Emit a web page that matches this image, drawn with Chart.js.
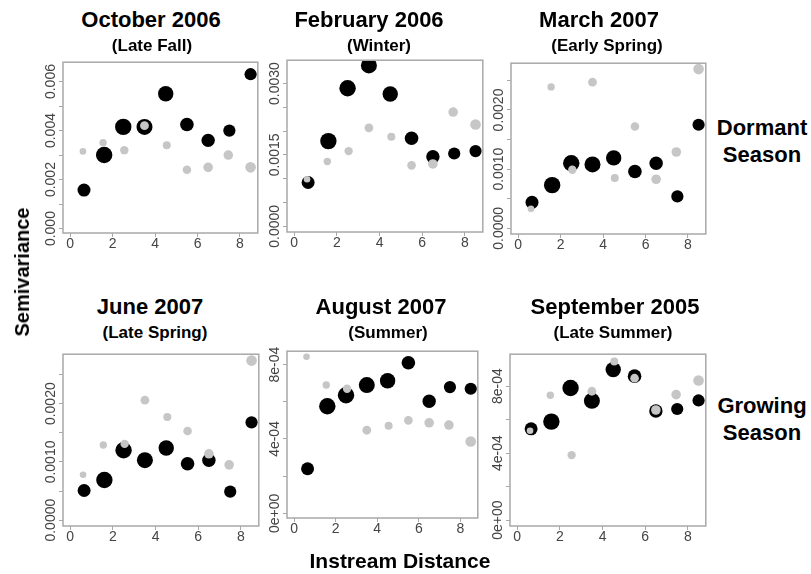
<!doctype html>
<html lang="en">
<head>
<meta charset="UTF-8">
<title>Semivariance by season</title>
<script src="https://cdn.jsdelivr.net/npm/chart.js@4"></script>
<style>
  body { margin: 0; background: #fff; }
  #fig { position: relative; width: 811px; height: 574px; overflow: hidden; background: #fff;
         font-family: "Liberation Sans", Arial, sans-serif; }
  #fig canvas { position: absolute; }
  .txt { position: absolute; font-weight: bold; color: #000; white-space: nowrap;
         transform: translate(-50%, -50%); line-height: 1; text-align: center; }
  .title { font-size: 22px; }
  .sub { font-size: 17px; }
  .side { font-size: 22px; line-height: 27px; }
  .axis { font-size: 21px; }
  .ylab { font-size: 20px; transform: translate(-50%, -50%) rotate(-90deg); }
</style>
</head>
<body>
<div id="fig"></div>

<script>
// lag distance of each bin (black = observed, gray = second series)
const blackDist = [0.65, 1.6, 2.5, 3.5, 4.5, 5.5, 6.5, 7.5, 8.5];
const grayDist = [0.6, 1.55, 2.55, 3.5, 4.55, 5.5, 6.5, 7.45, 8.5];
// relative marker size per bin
const blackSize = [6.5, 8.2, 8.2, 8, 7.7, 6.8, 6.7, 6.1, 6.1];
const graySize = [3.3, 3.7, 4.2, 4.4, 4, 4.3, 4.8, 4.8, 5.3];

const titles = ['October 2006', 'February 2006', 'March 2007', 'June 2007', 'August 2007', 'September 2005'];
const seasons = ['(Late Fall)', '(Winter)', '(Early Spring)', '(Late Spring)', '(Summer)', '(Late Summer)'];

const octBlack = [0.00157, 0.0030, 0.00415, 0.00415, 0.0055, 0.00425, 0.0036, 0.0040, 0.0063];
const octGray = [0.00315, 0.0035, 0.0032, 0.0042, 0.0034, 0.0024, 0.0025, 0.0030, 0.0025];
const febBlack = [0.00092, 0.00179, 0.0029, 0.00338, 0.00278, 0.00185, 0.00146, 0.00153, 0.00158];
const febGray = [0.00099, 0.00136, 0.00158, 0.00207, 0.00188, 0.00128, 0.00131, 0.0024, 0.00214];
const marBlack = [0.00044, 0.00073, 0.0011, 0.00108, 0.00119, 0.00096, 0.0011, 0.00054, 0.00175];
const marGray = [0.00033, 0.00239, 0.00099, 0.00247, 0.00085, 0.00172, 0.00083, 0.00129, 0.00269];
const junBlack = [0.00051, 0.00069, 0.0012, 0.00103, 0.00124, 0.00097, 0.00103, 0.00049, 0.00168];
const junGray = [0.00078, 0.00129, 0.00131, 0.00206, 0.00177, 0.00153, 0.00114, 0.00095, 0.00274];
const augBlack = [2.4e-4, 5.76e-4, 6.35e-4, 6.9e-4, 7.13e-4, 8.1e-4, 6.03e-4, 6.79e-4, 6.7e-4];
const augGray = [8.42e-4, 6.9e-4, 6.7e-4, 4.47e-4, 4.71e-4, 5.0e-4, 4.87e-4, 4.75e-4, 3.86e-4];
const sepBlack = [5.45e-4, 5.88e-4, 7.88e-4, 7.12e-4, 8.98e-4, 8.59e-4, 6.51e-4, 6.63e-4, 7.14e-4];
const sepGray = [5.33e-4, 7.45e-4, 3.88e-4, 7.69e-4, 9.47e-4, 8.47e-4, 6.57e-4, 7.49e-4, 8.33e-4];

// tick values and their labels ('' = tick mark only)
const xTicks = [0, 2, 4, 6, 8];
const xLabels = ['0', '2', '4', '6', '8'];
const octTicks = [0, 0.001, 0.002, 0.003, 0.004, 0.005, 0.006];
const octLabels = ['0.000', '', '0.002', '', '0.004', '', '0.006'];
const febTicks = [0, 0.0005, 0.001, 0.0015, 0.002, 0.0025, 0.003];
const febLabels = ['0.0000', '', '', '0.0015', '', '', '0.0030'];
const sprTicks = [0, 0.0005, 0.001, 0.0015, 0.002, 0.0025];
const sprLabels = ['0.0000', '', '0.0010', '', '0.0020', ''];
const sumTicks = [0, 2e-4, 4e-4, 6e-4, 8e-4];
const sumLabels = ['0e+00', '', '4e-04', '', '8e-04'];

const xMin = -0.34, xMax = 8.84;

// layout: plot box [left, top, right, bottom], y range, title centres
const panels = [
  { black: octBlack, gray: octGray, ticks: octTicks, labels: octLabels, box: [63, 60, 260, 233], y: [-0.00018, 0.00679], tx: 151, sx: 152, row: 0 },
  { black: febBlack, gray: febGray, ticks: febTicks, labels: febLabels, box: [287, 58, 485, 232], y: [-0.00012, 0.00349], tx: 369, sx: 379, row: 0 },
  { black: marBlack, gray: marGray, ticks: sprTicks, labels: sprLabels, box: [511, 61, 708, 234], y: [-0.000095, 0.00279], tx: 599, sx: 607, row: 0 },
  { black: junBlack, gray: junGray, ticks: sprTicks, labels: sprLabels, box: [63, 352, 261, 526], y: [-0.0001, 0.00285], tx: 150, sx: 155, row: 1 },
  { black: augBlack, gray: augGray, ticks: sumTicks, labels: sumLabels, box: [287, 349, 480, 518], y: [-0.25e-4, 8.72e-4], tx: 381, sx: 388, row: 1 },
  { black: sepBlack, gray: sepGray, ticks: sumTicks, labels: sumLabels, box: [510, 352, 708, 526], y: [-0.35e-4, 9.9e-4], tx: 615, sx: 613, row: 1 }
];

const fig = document.getElementById('fig');
const FONT = '"Liberation Sans", Arial, sans-serif';
const boxColor = '#a8a8a8';
const tickColor = '#444';

function addText(cls, text, x, y) {
  const d = document.createElement('div');
  d.className = 'txt ' + cls;
  d.innerHTML = text;
  d.style.left = x + 'px';
  d.style.top = y + 'px';
  fig.appendChild(d);
}

// frame round the plot area + rotated y tick labels
const framePlugin = {
  id: 'frame',
  afterDatasetsDraw(chart, args, opts) {
    const a = chart.chartArea, ctx = chart.ctx, s = chart.scales.y;
    ctx.save();
    ctx.strokeStyle = boxColor;
    ctx.lineWidth = 1.5;
    ctx.strokeRect(a.left, a.top, a.right - a.left, a.bottom - a.top);
    ctx.fillStyle = tickColor;
    ctx.font = '14px ' + FONT;
    ctx.textAlign = 'center';
    ctx.textBaseline = 'middle';
    opts.ticks.forEach((v, i) => {
      if (!opts.labels[i]) return;
      ctx.save();
      ctx.translate(a.left - 12, s.getPixelForValue(v));
      ctx.rotate(-Math.PI / 2);
      ctx.fillText(opts.labels[i], 0, 0);
      ctx.restore();
    });
    ctx.restore();
  }
};

function drawPanel(p, k) {
  const [L, T, R, B] = p.box;
  const padL = 40, padT = 6, padR = 6, padB = 26;
  const c = document.createElement('canvas');
  c.width = R - L + padL + padR;
  c.height = B - T + padT + padB;
  c.style.left = (L - padL) + 'px';
  c.style.top = (T - padT) + 'px';
  c.style.width = c.width + 'px';
  c.style.height = c.height + 'px';
  fig.appendChild(c);

  const grid = { drawOnChartArea: false, drawTicks: true, tickLength: 4, color: boxColor, lineWidth: 1 };
  new Chart(c, {
    type: 'bubble',
    data: {
      datasets: [
        { data: p.gray.map((v, i) => ({ x: grayDist[i], y: v, r: graySize[i] })), backgroundColor: '#c6c6c6', borderWidth: 0 },
        { data: p.black.map((v, i) => ({ x: blackDist[i], y: v, r: blackSize[i] })), backgroundColor: '#000', borderWidth: 0 }
      ]
    },
    options: {
      responsive: false,
      animation: false,
      devicePixelRatio: 1,
      layout: { padding: { left: 0, top: padT, right: padR, bottom: 0 } },
      plugins: {
        legend: { display: false },
        tooltip: { enabled: false },
        frame: { ticks: p.ticks, labels: p.labels }
      },
      scales: {
        x: {
          type: 'linear', min: xMin, max: xMax,
          afterBuildTicks: s => { s.ticks = xTicks.map(v => ({ value: v })); },
          afterFit: s => { s.height = padB; },
          grid: grid,
          border: { display: false },
          ticks: {
            color: tickColor, padding: 0, maxRotation: 0, autoSkip: false,
            font: { family: FONT, size: 14, lineHeight: 1 },
            callback: (v, i) => xLabels[i]
          }
        },
        y: {
          type: 'linear', min: p.y[0], max: p.y[1],
          afterBuildTicks: s => { s.ticks = p.ticks.map(v => ({ value: v })); },
          afterFit: s => { s.width = padL; },
          grid: grid,
          border: { display: false },
          ticks: { display: false }
        }
      }
    },
    plugins: [framePlugin]
  });

  const ty = p.row === 0 ? 20 : 307;
  addText('title', titles[k], p.tx, ty);
  addText('sub', seasons[k], p.sx, ty + 25);
}

panels.forEach(drawPanel);

addText('side', 'Dormant<br>Season', 762, 141);
addText('side', 'Growing<br>Season', 762, 419);
addText('ylab', 'Semivariance', 22, 272);
addText('axis', 'Instream Distance', 400, 560);
</script>
</body>
</html>
